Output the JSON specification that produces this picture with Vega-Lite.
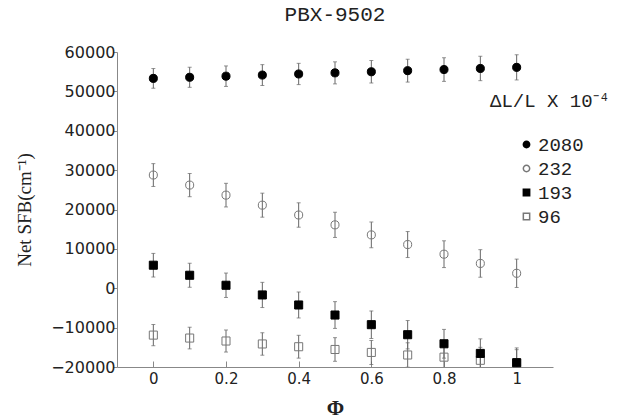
{
  "$schema": "https://vega.github.io/schema/vega-lite/v6.json",
  "width": 436,
  "height": 315,
  "autosize": {"type": "none"},
  "padding": {"left": 117, "top": 52, "right": 66, "bottom": 53},
  "background": "white",
  "title": {"text": "PBX-9502", "font": "Liberation Mono", "fontSize": 21, "fontWeight": "normal", "color": "#222", "offset": 19, "anchor": "middle"},
  "data": {"values": [
    {"phi": 0.0, "v": 53300, "lo": 50800, "hi": 55800, "s": "2080"},
    {"phi": 0.1, "v": 53580, "lo": 51030, "hi": 56130, "s": "2080"},
    {"phi": 0.2, "v": 53860, "lo": 51260, "hi": 56460, "s": "2080"},
    {"phi": 0.3, "v": 54140, "lo": 51490, "hi": 56790, "s": "2080"},
    {"phi": 0.4, "v": 54420, "lo": 51720, "hi": 57120, "s": "2080"},
    {"phi": 0.5, "v": 54700, "lo": 51900, "hi": 57500, "s": "2080"},
    {"phi": 0.6, "v": 54980, "lo": 52130, "hi": 57830, "s": "2080"},
    {"phi": 0.7, "v": 55260, "lo": 52360, "hi": 58160, "s": "2080"},
    {"phi": 0.8, "v": 55540, "lo": 52540, "hi": 58540, "s": "2080"},
    {"phi": 0.9, "v": 55820, "lo": 52720, "hi": 58920, "s": "2080"},
    {"phi": 1.0, "v": 56100, "lo": 52900, "hi": 59300, "s": "2080"},
    {"phi": 0.0, "v": 28750, "lo": 25850, "hi": 31650, "s": "232"},
    {"phi": 0.1, "v": 26200, "lo": 23250, "hi": 29150, "s": "232"},
    {"phi": 0.2, "v": 23650, "lo": 20650, "hi": 26650, "s": "232"},
    {"phi": 0.3, "v": 21100, "lo": 18050, "hi": 24150, "s": "232"},
    {"phi": 0.4, "v": 18600, "lo": 15500, "hi": 21700, "s": "232"},
    {"phi": 0.5, "v": 16100, "lo": 12900, "hi": 19300, "s": "232"},
    {"phi": 0.6, "v": 13550, "lo": 10300, "hi": 16800, "s": "232"},
    {"phi": 0.7, "v": 11100, "lo": 7800, "hi": 14400, "s": "232"},
    {"phi": 0.8, "v": 8650, "lo": 5250, "hi": 12050, "s": "232"},
    {"phi": 0.9, "v": 6300, "lo": 2800, "hi": 9800, "s": "232"},
    {"phi": 1.0, "v": 3800, "lo": 200, "hi": 7400, "s": "232"},
    {"phi": 0.0, "v": -11900, "lo": -14600, "hi": -9200, "s": "96"},
    {"phi": 0.1, "v": -12650, "lo": -15400, "hi": -9900, "s": "96"},
    {"phi": 0.2, "v": -13400, "lo": -16200, "hi": -10600, "s": "96"},
    {"phi": 0.3, "v": -14150, "lo": -17000, "hi": -11300, "s": "96"},
    {"phi": 0.4, "v": -14850, "lo": -17750, "hi": -11950, "s": "96"},
    {"phi": 0.5, "v": -15550, "lo": -18550, "hi": -12550, "s": "96"},
    {"phi": 0.6, "v": -16300, "lo": -19350, "hi": -13250, "s": "96"},
    {"phi": 0.7, "v": -16950, "lo": -20050, "hi": -13850, "s": "96"},
    {"phi": 0.8, "v": -17500, "lo": -20700, "hi": -14300, "s": "96"},
    {"phi": 0.9, "v": -18300, "lo": -21600, "hi": -15000, "s": "96"},
    {"phi": 1.0, "v": -19000, "lo": -22400, "hi": -15600, "s": "96"},
    {"phi": 0.0, "v": 5850, "lo": 2850, "hi": 8850, "s": "193"},
    {"phi": 0.1, "v": 3300, "lo": 250, "hi": 6350, "s": "193"},
    {"phi": 0.2, "v": 760, "lo": -2340, "hi": 3860, "s": "193"},
    {"phi": 0.3, "v": -1700, "lo": -4900, "hi": 1500, "s": "193"},
    {"phi": 0.4, "v": -4250, "lo": -7550, "hi": -950, "s": "193"},
    {"phi": 0.5, "v": -6800, "lo": -10200, "hi": -3400, "s": "193"},
    {"phi": 0.6, "v": -9250, "lo": -12750, "hi": -5750, "s": "193"},
    {"phi": 0.7, "v": -11800, "lo": -15400, "hi": -8200, "s": "193"},
    {"phi": 0.8, "v": -14100, "lo": -17750, "hi": -10450, "s": "193"},
    {"phi": 0.9, "v": -16550, "lo": -20250, "hi": -12850, "s": "193"},
    {"phi": 1.0, "v": -18900, "lo": -22650, "hi": -15150, "s": "193"}
  ]},
  "encoding": {
    "x": {"field": "phi", "type": "quantitative",
      "scale": {"domain": [-0.1, 1.1], "nice": false, "zero": false},
      "axis": {"title": "Φ", "values": [0, 0.2, 0.4, 0.6, 0.8, 1], "format": "~g", "grid": false,
        "tickSize": -6, "labelPadding": 10, "titlePadding": 11, "labelOverlap": false,
        "titleFont": "Liberation Serif", "titleFontSize": 21, "titleFontWeight": "bold", "titleColor": "#222",
        "labelFont": "DejaVu Sans", "labelFontSize": 15, "labelColor": "#222",
        "domainColor": "#888", "tickColor": "#888"}}
  },
  "layer": [
    {
      "mark": {"type": "errorbar", "ticks": {"size": 4, "color": "#666"}, "rule": {"color": "#666"}, "clip": true},
      "encoding": {
        "y": {"field": "lo", "type": "quantitative",
          "scale": {"domain": [-20000, 60000], "nice": false},
          "axis": {"title": "Net SFB(cm⁻¹)", "values": [-20000, -10000, 0, 10000, 20000, 30000, 40000, 50000, 60000],
            "format": "d", "labelOverlap": false, "tickCount": 9,
            "grid": false, "tickSize": 4, "labelPadding": -2, "titlePadding": 16,
            "titleFont": "Liberation Serif", "titleFontSize": 19, "titleFontWeight": "normal", "titleColor": "#222",
            "labelFont": "DejaVu Sans", "labelFontSize": 16, "labelColor": "#222",
            "domainColor": "#888", "tickColor": "#888"}},
        "y2": {"field": "hi"}
      }
    },
    {
      "mark": {"type": "point", "size": 65, "strokeWidth": 1, "opacity": 1},
      "encoding": {
        "y": {"field": "v", "type": "quantitative",
          "scale": {"domain": [-20000, 60000], "nice": false},
          "axis": {"title": "Net SFB(cm⁻¹)", "values": [-20000, -10000, 0, 10000, 20000, 30000, 40000, 50000, 60000],
            "format": "d", "labelOverlap": false, "tickCount": 9,
            "grid": false, "tickSize": 4, "labelPadding": -2, "titlePadding": 16,
            "titleFont": "Liberation Serif", "titleFontSize": 19, "titleFontWeight": "normal", "titleColor": "#222",
            "labelFont": "DejaVu Sans", "labelFontSize": 16, "labelColor": "#222",
            "domainColor": "#888", "tickColor": "#888"}},
        "shape": {"field": "s", "type": "nominal",
          "scale": {"domain": ["2080", "232", "193", "96"], "range": ["circle", "circle", "square", "square"]},
          "legend": {"title": "ΔL/L X 10⁻⁴", "orient": "none", "legendX": 373, "legendY": 40,
            "titleFont": "Liberation Mono", "titleFontSize": 19, "titleFontWeight": "normal", "titleColor": "#222",
            "titlePadding": 24, "symbolOffset": 27, "symbolSize": 40, "rowPadding": 4,
            "labelFont": "Liberation Mono", "labelFontSize": 19, "labelColor": "#222", "labelOffset": 2}},
        "fill": {"field": "s", "type": "nominal",
          "scale": {"domain": ["2080", "232", "193", "96"], "range": ["black", "transparent", "black", "transparent"]}},
        "stroke": {"field": "s", "type": "nominal",
          "scale": {"domain": ["2080", "232", "193", "96"], "range": ["black", "#777", "black", "#777"]}}
      }
    }
  ],
  "config": {"view": {"stroke": null}}
}
